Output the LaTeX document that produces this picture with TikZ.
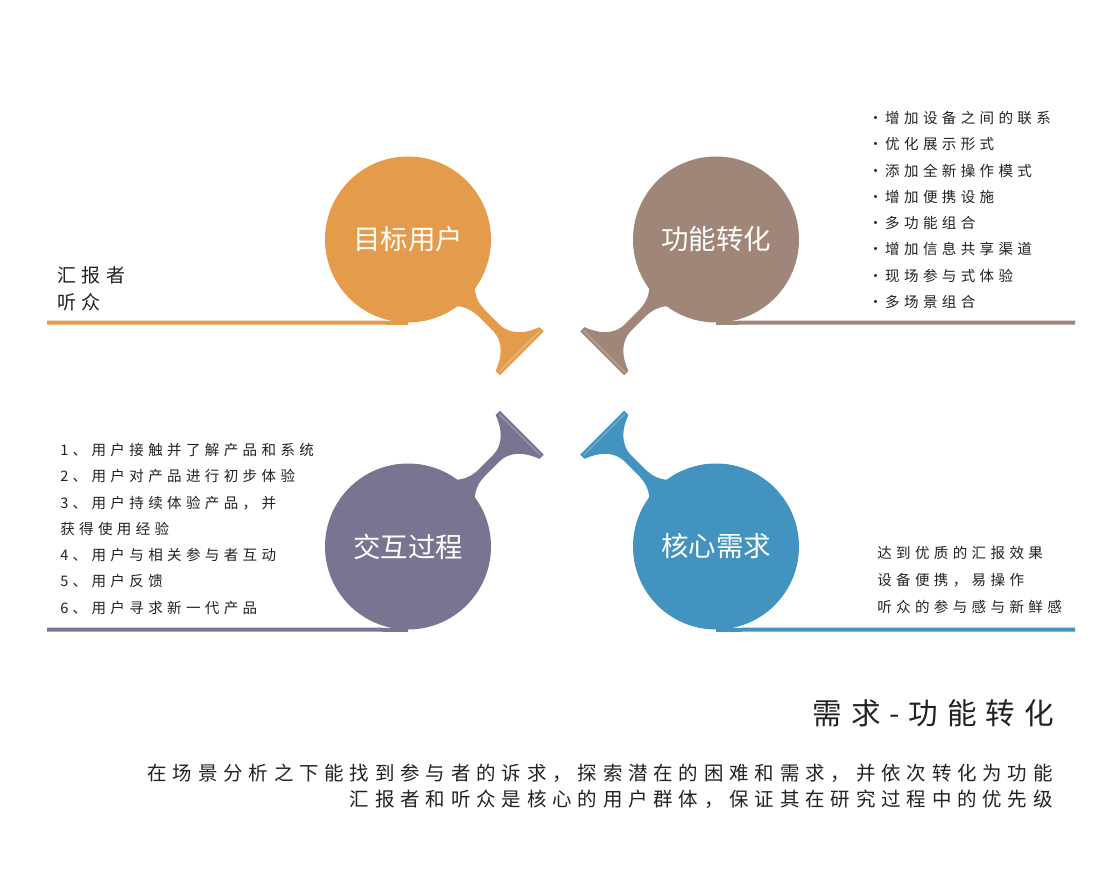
\documentclass[tikz,border=0pt]{standalone}
\usepackage{fontspec}
\setmainfont{Noto Sans CJK SC}
\newfontfamily\spaced[LetterSpace=30]{Noto Sans CJK SC}
\usepackage{xcolor}
\usepackage{tikz}
\usetikzlibrary{positioning}

\definecolor{targetorange}{HTML}{E59B4C}
\definecolor{funcbrown}{HTML}{A08678}
\definecolor{interpurple}{HTML}{7A7391}
\definecolor{coreblue}{HTML}{4393C0}
\definecolor{inkgray}{HTML}{222222}

\newcommand{\balloonstem}[3]{%
    \begin{scope}[shift={(#1)}, rotate=#2]
        \fill[#3] (80,14) .. controls (88,7) and (95,4.5) .. (106,4.5)
            -- (124,4.5) .. controls (141,4.5) and (150,18) .. (155,31) -- (161,31)
            -- (161,-31) -- (155,-31)
            .. controls (150,-18) and (141,-4.5) .. (124,-4.5) -- (106,-4.5)
            .. controls (95,-4.5) and (88,-7) .. (80,-14) -- cycle;
        \draw[white, opacity=0.35, line width=0.6pt] (158,-29) -- (158,29);
    \end{scope}}

\begin{document}
\begin{tikzpicture}[
        x=0.75pt, y=-0.75pt,
        bubble/.style={
            circle,
            inner sep=0pt,
            minimum size=124.5pt,
            text=white,
            font=\fontsize{20.6}{24}\selectfont
        },
        baseline/.style={
            line width=3pt
        },
        notes/.style={
            align=left,
            inner sep=0pt,
            anchor=north west,
            text=inkgray,
            font=\spaced\fontsize{10.9}{19.7}\selectfont
        }
    ]

        \fill[white] (0,0) rectangle (1115,888);
        \useasboundingbox (0,0) rectangle (1115,888);

        \node[bubble, fill=targetorange] (target) at (408,239.5) {目标用户};
        \node[bubble, fill=funcbrown] (func) at (716,239.5) {功能转化};
        \node[bubble, fill=interpurple] (inter) at (408,546.5) {交互过程};
        \node[bubble, fill=coreblue] (core) at (716,546.5) {核心需求};

        \balloonstem{target}{-45}{targetorange}
        \balloonstem{func}{-135}{funcbrown}
        \balloonstem{inter}{45}{interpurple}
        \balloonstem{core}{135}{coreblue}

        \coordinate (targetend) at (47,322.5);
        \coordinate (funcend) at (1075,322.5);
        \coordinate (interend) at (47,629.5);
        \coordinate (coreend) at (1075,629.5);

        \draw[baseline, targetorange] (targetend) -- (target.south);
        \draw[baseline, funcbrown] (func.south) -- (funcend);
        \draw[baseline, interpurple] (interend) -- (inter.south);
        \draw[baseline, coreblue] (core.south) -- (coreend);

        \node[notes, font=\spaced\fontsize{14.25}{20.25}\selectfont] (users) at (57,266) {汇报者\\听众};
        \node[notes] (funclist) at (868,111) {·\,增加设备之间的联系\\·\,优化展示形式\\·\,添加全新操作模式\\·\,增加便携设施\\·\,多功能组合\\·\,增加信息共享渠道\\·\,现场参与式体验\\·\,多场景组合};
        \node[notes] (interlist) at (60,443) {1、用户接触并了解产品和系统\\2、用户对产品进行初步体验\\3、用户持续体验产品，并\\获得使用经验\\4、用户与相关参与者互动\\5、用户反馈\\6、用户寻求新一代产品};
        \node[notes, font=\spaced\fontsize{10.9}{20.25}\selectfont] (corelist) at (877,546) {达到优质的汇报效果\\设备便携，易操作\\听众的参与感与新鲜感};

        \node[inner sep=0pt, anchor=east, text=inkgray, font=\spaced\fontsize{22.2}{26}\selectfont] (title) at (1054,713) {需求-功能转化};
        \node[inner sep=0pt, anchor=north east, align=right, text=inkgray, font=\spaced\fontsize{14.6}{19.5}\selectfont] (summary) at (1053,764) {在场景分析之下能找到参与者的诉求，探索潜在的困难和需求，并依次转化为功能\\汇报者和听众是核心的用户群体，保证其在研究过程中的优先级};

    \end{tikzpicture}
\end{document}
